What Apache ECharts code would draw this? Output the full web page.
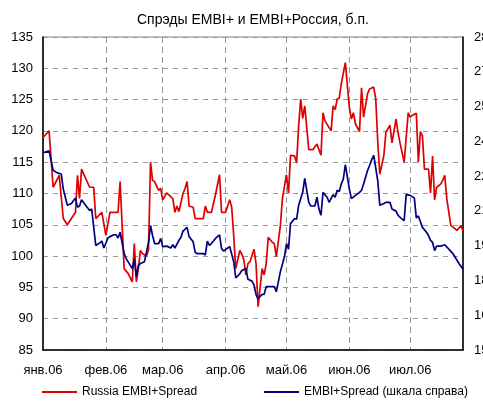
<!DOCTYPE html>
<html lang="ru">
<head>
  <meta charset="UTF-8">
  <title>Спрэды EMBI+ и EMBI+Россия</title>
  <script src="https://cdn.jsdelivr.net/npm/echarts@6/dist/echarts.min.js"></script>
  <style>
    html, body { margin: 0; padding: 0; background: #fff; }
    #main { width: 483px; height: 403px; }
  </style>
</head>
<body>
  <div id="main"></div>

  <script>
    // подписи месяцев на оси X
    const monthLabels = {
      '01': 'янв.06', '02': 'фев.06', '03': 'мар.06', '04': 'апр.06',
      '05': 'май.06', '06': 'июн.06', '07': 'июл.06'
    };

    // Russia EMBI+Spread (левая шкала)
    const russiaDates = [
      '01-01','01-02','01-04','01-06','01-09','01-11','01-13','01-17','01-18','01-19',
      '01-20','01-24','01-26','01-27','01-30','02-01','02-03','02-07','02-08','02-10',
      '02-12','02-14','02-15','02-16','02-17','02-18','02-19','02-21','02-22','02-23',
      '02-24','02-25','02-27','02-28','03-01','03-03','03-04','03-06','03-07','03-08',
      '03-09','03-11','03-12','03-13','03-14','03-16','03-17','03-21','03-22','03-23',
      '03-25','03-27','03-29','03-30','04-01','04-03','04-04','04-05','04-06','04-08',
      '04-09','04-10','04-11','04-12','04-13','04-15','04-16','04-17','04-19','04-20',
      '04-21','04-22','04-24','04-25','04-26','04-28','04-29','05-01','05-02','05-03',
      '05-05','05-06','05-07','05-08','05-09','05-10','05-12','05-14','05-16','05-18',
      '05-19','05-20','05-23','05-24','05-25','05-26','05-27','05-28','05-30','06-01',
      '06-02','06-03','06-04','06-06','06-07','06-08','06-10','06-11','06-13','06-14',
      '06-15','06-16','06-18','06-19','06-21','06-22','06-24','06-25','06-26','06-28',
      '06-30','07-01','07-02','07-04','07-05','07-06','07-07','07-08','07-10','07-11',
      '07-12','07-13','07-14','07-16','07-17','07-18','07-19','07-21','07-23','07-24',
      '07-26','07-27'
    ];
    const russiaValues = [
      119.0,119.3,120.0,111.0,112.9,106.0,105.0,107.0,112.9,109.2,
      113.9,111.0,111.0,106.0,107.0,103.3,107.0,107.0,111.9,98.0,
      97.2,95.9,102.0,95.9,98.0,100.9,100.4,100.0,101.0,115.0,
      112.1,111.9,110.5,110.8,109.0,110.1,109.8,109.2,107.0,108.0,
      107.1,110.0,110.8,111.9,108.0,107.8,106.0,106.0,108.0,107.0,
      107.0,109.8,113.0,107.0,107.0,109.0,107.8,103.3,98.0,100.9,
      100.3,99.4,97.0,98.8,99.1,101.1,98.8,91.9,98.0,97.0,
      98.8,103.0,102.2,102.0,99.9,104.9,109.2,113.0,110.0,116.1,
      116.0,114.9,120.8,125.1,122.0,124.0,117.0,117.0,117.9,116.1,
      122.9,121.6,120.0,124.0,123.4,125.1,125.2,127.5,130.9,123.7,
      121.9,122.9,121.1,119.9,126.9,122.2,126.0,126.7,127.0,125.1,
      118.2,113.1,116.1,119.8,120.9,118.1,121.9,119.7,118.0,115.0,
      122.9,122.2,122.5,122.8,115.0,119.9,119.2,113.9,113.9,110.1,
      116.0,109.0,111.0,111.5,112.1,112.9,109.2,104.9,104.4,104.1,
      104.9,104.1
    ];

    // EMBI+Spread (правая шкала)
    const embiDates = [
      '01-01','01-04','01-06','01-08','01-10','01-11','01-13','01-15','01-17','01-18',
      '01-19','01-20','01-22','01-24','01-25','01-27','01-29','01-30','01-31','02-02',
      '02-03','02-05','02-06','02-07','02-08','02-10','02-11','02-14','02-15','02-16',
      '02-17','02-18','02-20','02-22','02-23','02-24','02-25','02-27','02-28','03-01',
      '03-03','03-05','03-06','03-07','03-09','03-10','03-11','03-13','03-14','03-16',
      '03-17','03-18','03-21','03-22','03-23','03-24','03-25','03-27','03-29','03-30',
      '03-31','04-03','04-05','04-06','04-08','04-09','04-11','04-12','04-14','04-15',
      '04-16','04-17','04-19','04-20','04-21','04-24','04-25','04-26','04-28','04-30',
      '05-01','05-02','05-03','05-05','05-06','05-07','05-09','05-10','05-12','05-13',
      '05-15','05-16','05-17','05-18','05-19','05-21','05-22','05-24','05-25','05-26',
      '05-27','05-28','05-29','05-30','06-01','06-02','06-04','06-06','06-07','06-08',
      '06-10','06-11','06-12','06-13','06-15','06-16','06-18','06-19','06-21','06-22',
      '06-24','06-25','06-27','06-28','06-29','07-01','07-03','07-04','07-05','07-07',
      '07-09','07-10','07-11','07-12','07-13','07-14','07-16','07-17','07-18','07-20',
      '07-22','07-23','07-25','07-27'
    ];
    const embiValues = [
      235.1,235.9,227.5,226.4,225.9,219.4,212.4,213.2,215.6,211.6,
      212.1,214.8,212.4,210.2,210.8,195.1,196.2,197.0,194.0,198.3,
      198.9,199.7,199.7,198.3,200.8,191.6,189.4,185.1,189.2,181.6,
      186.5,187.3,188.1,196.4,203.7,199.4,195.9,195.9,198.1,194.6,
      194.8,194.0,195.4,194.0,197.3,198.6,201.3,202.9,198.9,196.7,
      192.1,191.6,191.6,191.0,197.0,195.1,195.9,198.1,199.7,193.7,
      192.7,194.6,188.1,181.1,182.9,184.3,185.1,180.5,179.7,178.1,
      173.9,172.1,174.0,174.0,177.3,177.3,177.3,175.1,183.8,190.2,
      195.9,193.5,204.5,206.7,206.4,212.4,218.0,224.0,213.7,212.1,
      212.1,215.9,210.8,208.1,218.0,215.9,213.7,217.0,215.9,218.9,
      218.3,221.6,223.7,229.9,219.4,215.3,216.7,218.0,218.9,221.6,
      227.5,229.7,232.1,234.0,222.9,212.4,213.2,213.7,213.7,210.8,
      209.9,208.1,206.4,205.9,217.0,216.7,215.6,207.0,207.8,202.9,
      200.8,199.4,197.3,196.4,192.9,194.8,194.8,195.1,195.4,193.5,
      191.6,190.2,187.3,184.8
    ];

    // календарные дни оси X: 1 янв. – 27 июл. 2006
    const days = [];
    for (let t = Date.UTC(2006, 0, 1); t <= Date.UTC(2006, 6, 27); t += 86400000) {
      days.push(new Date(t).toISOString().slice(5, 10));
    }
    const isMonthStart = (idx, value) => days[idx].endsWith('-01');

    const chart = echarts.init(document.getElementById('main'));

    const option = {
      animation: false,
      textStyle: { fontFamily: 'Liberation Sans, Arial, sans-serif', color: '#000' },
      title: {
        text: 'Спрэды EMBI+ и EMBI+Россия, б.п.',
        left: 137,
        top: 13,
        padding: 0,
        textStyle: { fontSize: 14, fontWeight: 'normal', color: '#000' }
      },
      legend: [
        {
          data: ['Russia EMBI+Spread'],
          left: 42, top: 386, padding: 0,
          icon: 'rect', itemWidth: 35, itemHeight: 2,
          textStyle: { fontSize: 12, color: '#000' }
        },
        {
          data: ['EMBI+Spread (шкала справа)'],
          left: 264, top: 386, padding: 0,
          icon: 'rect', itemWidth: 35, itemHeight: 2,
          textStyle: { fontSize: 12, color: '#000' }
        }
      ],
      grid: {
        left: 43, right: 20, top: 37, bottom: 53,
        containLabel: false,
        outerBoundsMode: 'none',
        show: true, borderColor: '#808080', borderWidth: 1
      },
      xAxis: {
        type: 'category',
        data: days,
        boundaryGap: false,
        axisLine: { lineStyle: { color: '#000', width: 1.5 } },
        axisTick: { show: false },
        axisLabel: {
          interval: isMonthStart,
          margin: 14,
          fontSize: 13,
          color: '#000',
          formatter: v => monthLabels[v.slice(0, 2)]
        },
        splitLine: {
          show: true,
          interval: isMonthStart,
          lineStyle: { color: '#999', type: [6, 4], width: 1 }
        }
      },
      yAxis: [
        {
          type: 'value',
          min: 85, max: 135, interval: 5,
          axisLine: { show: true, lineStyle: { color: '#000', width: 1.5 } },
          axisTick: { show: false },
          axisLabel: { margin: 10, fontSize: 13, color: '#000' },
          splitLine: { lineStyle: { color: '#999', type: [5, 5], width: 1 } }
        },
        {
          type: 'value',
          position: 'right',
          min: 150, max: 285, interval: 15,
          axisLine: { show: true, lineStyle: { color: '#000', width: 1.5 } },
          axisTick: { show: false },
          axisLabel: { margin: 11, fontSize: 13, color: '#000' },
          splitLine: { show: false }
        }
      ],
      series: [
        {
          name: 'Russia EMBI+Spread',
          type: 'line',
          yAxisIndex: 0,
          symbol: 'none',
          lineStyle: { color: '#dd0000', width: 1.7 },
          itemStyle: { color: '#dd0000' },
          data: russiaDates.map((d, i) => [d, russiaValues[i]])
        },
        {
          name: 'EMBI+Spread (шкала справа)',
          type: 'line',
          yAxisIndex: 1,
          symbol: 'none',
          lineStyle: { color: '#000080', width: 1.7 },
          itemStyle: { color: '#000080' },
          data: embiDates.map((d, i) => [d, embiValues[i]])
        }
      ]
    };

    chart.setOption(option);
  </script>
</body>
</html>
